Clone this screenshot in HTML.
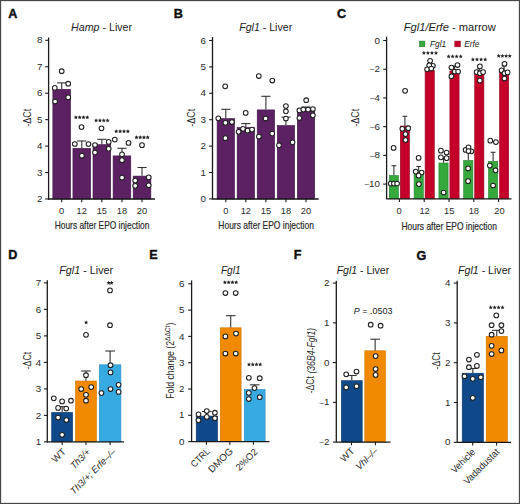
<!DOCTYPE html>
<html><head><meta charset="utf-8"><style>
html,body{margin:0;padding:0;background:#fff;}
body{width:520px;height:504px;overflow:hidden;}
svg{display:block;font-family:"Liberation Sans", sans-serif;}
</style></head><body>
<svg width="520" height="504" viewBox="0 0 520 504">
<rect x="0" y="0" width="520" height="504" fill="#fff"/>
<text x="8.15" y="18.15" font-size="12.6" text-anchor="start" fill="#111" font-weight="bold" stroke="#111" stroke-width="0.45">A</text>
<text x="71.1" y="30.8" font-size="10.5" fill="#222" textLength="61" lengthAdjust="spacingAndGlyphs"><tspan font-style="italic">Hamp</tspan> - Liver</text>
<text transform="translate(27,117.8) rotate(-90)" x="0" y="0" font-size="10.5" text-anchor="middle" dominant-baseline="central" fill="#2a2a2a" textLength="18" lengthAdjust="spacingAndGlyphs">-ΔCt</text>
<rect x="52.85" y="89.3" width="17.700000000000003" height="109.7" fill="#5c2163" stroke="#3e1446" stroke-width="0.6"/>
<rect x="72.92999999999999" y="148.3" width="17.70000000000001" height="50.7" fill="#5c2163" stroke="#3e1446" stroke-width="0.6"/>
<rect x="93.00999999999999" y="144.60000000000002" width="17.70000000000001" height="54.39999999999999" fill="#5c2163" stroke="#3e1446" stroke-width="0.6"/>
<rect x="113.08999999999999" y="155.9" width="17.70000000000001" height="43.10000000000001" fill="#5c2163" stroke="#3e1446" stroke-width="0.6"/>
<rect x="133.17" y="176.10000000000002" width="17.70000000000001" height="22.899999999999988" fill="#5c2163" stroke="#3e1446" stroke-width="0.6"/>
<line x1="61.7" y1="89" x2="61.7" y2="82.9" stroke="#333" stroke-width="1.1"/>
<line x1="57.1" y1="82.9" x2="66.3" y2="82.9" stroke="#333" stroke-width="1.1"/>
<line x1="81.78" y1="148" x2="81.78" y2="141" stroke="#333" stroke-width="1.1"/>
<line x1="77.18" y1="141" x2="86.38" y2="141" stroke="#333" stroke-width="1.1"/>
<line x1="101.86" y1="144.3" x2="101.86" y2="139.3" stroke="#333" stroke-width="1.1"/>
<line x1="97.26" y1="139.3" x2="106.46" y2="139.3" stroke="#333" stroke-width="1.1"/>
<line x1="121.94" y1="155.6" x2="121.94" y2="148.3" stroke="#333" stroke-width="1.1"/>
<line x1="117.34" y1="148.3" x2="126.53999999999999" y2="148.3" stroke="#333" stroke-width="1.1"/>
<line x1="142.01999999999998" y1="175.8" x2="142.01999999999998" y2="167.5" stroke="#333" stroke-width="1.1"/>
<line x1="137.42" y1="167.5" x2="146.61999999999998" y2="167.5" stroke="#333" stroke-width="1.1"/>
<circle cx="61.7" cy="71.2" r="2.35" fill="#fff" stroke="#222" stroke-width="1.05"/>
<circle cx="68.2" cy="83.7" r="2.35" fill="#fff" stroke="#222" stroke-width="1.05"/>
<circle cx="54.8" cy="87.9" r="2.35" fill="#fff" stroke="#222" stroke-width="1.05"/>
<circle cx="68.2" cy="97.4" r="2.35" fill="#fff" stroke="#222" stroke-width="1.05"/>
<circle cx="55.1" cy="101.5" r="2.35" fill="#fff" stroke="#222" stroke-width="1.05"/>
<circle cx="81.5" cy="127.1" r="2.35" fill="#fff" stroke="#222" stroke-width="1.05"/>
<circle cx="74.8" cy="144" r="2.35" fill="#fff" stroke="#222" stroke-width="1.05"/>
<circle cx="88.5" cy="144" r="2.35" fill="#fff" stroke="#222" stroke-width="1.05"/>
<circle cx="81.9" cy="155.7" r="2.35" fill="#fff" stroke="#222" stroke-width="1.05"/>
<circle cx="101.5" cy="128.3" r="2.35" fill="#fff" stroke="#222" stroke-width="1.05"/>
<circle cx="95" cy="145" r="2.35" fill="#fff" stroke="#222" stroke-width="1.05"/>
<circle cx="108.7" cy="141.9" r="2.35" fill="#fff" stroke="#222" stroke-width="1.05"/>
<circle cx="108.7" cy="148.8" r="2.35" fill="#fff" stroke="#222" stroke-width="1.05"/>
<circle cx="95" cy="152.6" r="2.35" fill="#fff" stroke="#222" stroke-width="1.05"/>
<circle cx="114.8" cy="139.6" r="2.35" fill="#fff" stroke="#222" stroke-width="1.05"/>
<circle cx="128.5" cy="142.9" r="2.35" fill="#fff" stroke="#222" stroke-width="1.05"/>
<circle cx="122" cy="154.4" r="2.35" fill="#fff" stroke="#222" stroke-width="1.05"/>
<circle cx="122" cy="160.2" r="2.35" fill="#fff" stroke="#222" stroke-width="1.05"/>
<circle cx="122" cy="177.7" r="2.35" fill="#fff" stroke="#222" stroke-width="1.05"/>
<circle cx="142" cy="145.2" r="2.35" fill="#fff" stroke="#222" stroke-width="1.05"/>
<circle cx="135.2" cy="180.6" r="2.35" fill="#fff" stroke="#222" stroke-width="1.05"/>
<circle cx="148.7" cy="177.4" r="2.35" fill="#fff" stroke="#222" stroke-width="1.05"/>
<circle cx="135.2" cy="185.8" r="2.35" fill="#fff" stroke="#222" stroke-width="1.05"/>
<circle cx="148.7" cy="185.3" r="2.35" fill="#fff" stroke="#222" stroke-width="1.05"/>
<polygon points="75.90,115.15 76.53,116.43 77.94,116.64 76.92,117.63 77.16,119.04 75.90,118.38 74.64,119.04 74.88,117.63 73.86,116.64 75.27,116.43" fill="#222"/>
<polygon points="79.70,115.15 80.33,116.43 81.74,116.64 80.72,117.63 80.96,119.04 79.70,118.38 78.44,119.04 78.68,117.63 77.66,116.64 79.07,116.43" fill="#222"/>
<polygon points="83.50,115.15 84.13,116.43 85.54,116.64 84.52,117.63 84.76,119.04 83.50,118.38 82.24,119.04 82.48,117.63 81.46,116.64 82.87,116.43" fill="#222"/>
<polygon points="87.30,115.15 87.93,116.43 89.34,116.64 88.32,117.63 88.56,119.04 87.30,118.38 86.04,119.04 86.28,117.63 85.26,116.64 86.67,116.43" fill="#222"/>
<polygon points="96.10,118.35 96.73,119.63 98.14,119.84 97.12,120.83 97.36,122.24 96.10,121.58 94.84,122.24 95.08,120.83 94.06,119.84 95.47,119.63" fill="#222"/>
<polygon points="99.93,118.35 100.57,119.63 101.98,119.84 100.96,120.83 101.20,122.24 99.93,121.58 98.67,122.24 98.91,120.83 97.89,119.84 99.30,119.63" fill="#222"/>
<polygon points="103.77,118.35 104.40,119.63 105.81,119.84 104.79,120.83 105.03,122.24 103.77,121.58 102.50,122.24 102.74,120.83 101.72,119.84 103.13,119.63" fill="#222"/>
<polygon points="107.60,118.35 108.23,119.63 109.64,119.84 108.62,120.83 108.86,122.24 107.60,121.58 106.34,122.24 106.58,120.83 105.56,119.84 106.97,119.63" fill="#222"/>
<polygon points="116.20,129.15 116.83,130.43 118.24,130.64 117.22,131.63 117.46,133.04 116.20,132.38 114.94,133.04 115.18,131.63 114.16,130.64 115.57,130.43" fill="#222"/>
<polygon points="120.10,129.15 120.73,130.43 122.14,130.64 121.12,131.63 121.36,133.04 120.10,132.38 118.84,133.04 119.08,131.63 118.06,130.64 119.47,130.43" fill="#222"/>
<polygon points="124.00,129.15 124.63,130.43 126.04,130.64 125.02,131.63 125.26,133.04 124.00,132.38 122.74,133.04 122.98,131.63 121.96,130.64 123.37,130.43" fill="#222"/>
<polygon points="127.90,129.15 128.53,130.43 129.94,130.64 128.92,131.63 129.16,133.04 127.90,132.38 126.64,133.04 126.88,131.63 125.86,130.64 127.27,130.43" fill="#222"/>
<polygon points="136.50,135.25 137.13,136.53 138.54,136.74 137.52,137.73 137.76,139.14 136.50,138.47 135.24,139.14 135.48,137.73 134.46,136.74 135.87,136.53" fill="#222"/>
<polygon points="140.23,135.25 140.87,136.53 142.28,136.74 141.26,137.73 141.50,139.14 140.23,138.47 138.97,139.14 139.21,137.73 138.19,136.74 139.60,136.53" fill="#222"/>
<polygon points="143.97,135.25 144.60,136.53 146.01,136.74 144.99,137.73 145.23,139.14 143.97,138.47 142.70,139.14 142.94,137.73 141.92,136.74 143.33,136.53" fill="#222"/>
<polygon points="147.70,135.25 148.33,136.53 149.74,136.74 148.72,137.73 148.96,139.14 147.70,138.47 146.44,139.14 146.68,137.73 145.66,136.74 147.07,136.53" fill="#222"/>
<line x1="48.6" y1="37.5" x2="48.6" y2="199.5" stroke="#1a1a1a" stroke-width="1.3"/>
<line x1="45.2" y1="199.0" x2="48.6" y2="199.0" stroke="#1a1a1a" stroke-width="1.1"/>
<text x="42.4" y="202.1" font-size="9.8" text-anchor="end" fill="#2a2a2a"  >2</text>
<line x1="45.2" y1="172.55" x2="48.6" y2="172.55" stroke="#1a1a1a" stroke-width="1.1"/>
<text x="42.4" y="175.65" font-size="9.8" text-anchor="end" fill="#2a2a2a"  >3</text>
<line x1="45.2" y1="146.1" x2="48.6" y2="146.1" stroke="#1a1a1a" stroke-width="1.1"/>
<text x="42.4" y="149.2" font-size="9.8" text-anchor="end" fill="#2a2a2a"  >4</text>
<line x1="45.2" y1="119.65" x2="48.6" y2="119.65" stroke="#1a1a1a" stroke-width="1.1"/>
<text x="42.4" y="122.75" font-size="9.8" text-anchor="end" fill="#2a2a2a"  >5</text>
<line x1="45.2" y1="93.2" x2="48.6" y2="93.2" stroke="#1a1a1a" stroke-width="1.1"/>
<text x="42.4" y="96.3" font-size="9.8" text-anchor="end" fill="#2a2a2a"  >6</text>
<line x1="45.2" y1="66.75" x2="48.6" y2="66.75" stroke="#1a1a1a" stroke-width="1.1"/>
<text x="42.4" y="69.85" font-size="9.8" text-anchor="end" fill="#2a2a2a"  >7</text>
<line x1="45.2" y1="40.30000000000001" x2="48.6" y2="40.30000000000001" stroke="#1a1a1a" stroke-width="1.1"/>
<text x="42.4" y="43.40000000000001" font-size="9.8" text-anchor="end" fill="#2a2a2a"  >8</text>
<line x1="48" y1="199" x2="155" y2="199" stroke="#1a1a1a" stroke-width="1.3"/>
<line x1="61.7" y1="199" x2="61.7" y2="202.2" stroke="#1a1a1a" stroke-width="1.1"/>
<line x1="81.78" y1="199" x2="81.78" y2="202.2" stroke="#1a1a1a" stroke-width="1.1"/>
<line x1="101.86" y1="199" x2="101.86" y2="202.2" stroke="#1a1a1a" stroke-width="1.1"/>
<line x1="121.94" y1="199" x2="121.94" y2="202.2" stroke="#1a1a1a" stroke-width="1.1"/>
<line x1="142.01999999999998" y1="199" x2="142.01999999999998" y2="202.2" stroke="#1a1a1a" stroke-width="1.1"/>
<text x="61.7" y="214" font-size="9.3" text-anchor="middle" fill="#2a2a2a"  >0</text>
<text x="81.78" y="214" font-size="9.3" text-anchor="middle" fill="#2a2a2a"  >12</text>
<text x="101.86" y="214" font-size="9.3" text-anchor="middle" fill="#2a2a2a"  >15</text>
<text x="121.94" y="214" font-size="9.3" text-anchor="middle" fill="#2a2a2a"  >18</text>
<text x="142.01999999999998" y="214" font-size="9.3" text-anchor="middle" fill="#2a2a2a"  >20</text>
<text x="54.7" y="228.8" font-size="11" text-anchor="start" fill="#2a2a2a"  textLength="94.7" lengthAdjust="spacingAndGlyphs" stroke="#2a2a2a" stroke-width="0.2">Hours after EPO injection</text>
<text x="173.75" y="18.349999999999998" font-size="12.6" text-anchor="start" fill="#111" font-weight="bold" stroke="#111" stroke-width="0.45">B</text>
<text x="239.2" y="30.8" font-size="10.5" fill="#222" textLength="53" lengthAdjust="spacingAndGlyphs"><tspan font-style="italic">Fgl1</tspan> - Liver</text>
<text transform="translate(190.8,117.8) rotate(-90)" x="0" y="0" font-size="10.5" text-anchor="middle" dominant-baseline="central" fill="#2a2a2a" textLength="18" lengthAdjust="spacingAndGlyphs">-ΔCt</text>
<rect x="217.10000000000002" y="118.6" width="17.4" height="80.4" fill="#5c2163" stroke="#3e1446" stroke-width="0.6"/>
<rect x="237.15000000000003" y="127.5" width="17.4" height="71.5" fill="#5c2163" stroke="#3e1446" stroke-width="0.6"/>
<rect x="257.20000000000005" y="109.89999999999999" width="17.4" height="89.10000000000001" fill="#5c2163" stroke="#3e1446" stroke-width="0.6"/>
<rect x="277.25000000000006" y="125.5" width="17.4" height="73.5" fill="#5c2163" stroke="#3e1446" stroke-width="0.6"/>
<rect x="297.3" y="108.5" width="17.4" height="90.5" fill="#5c2163" stroke="#3e1446" stroke-width="0.6"/>
<line x1="225.8" y1="118.3" x2="225.8" y2="109.3" stroke="#333" stroke-width="1.1"/>
<line x1="221.20000000000002" y1="109.3" x2="230.4" y2="109.3" stroke="#333" stroke-width="1.1"/>
<line x1="245.85000000000002" y1="127.2" x2="245.85000000000002" y2="123.6" stroke="#333" stroke-width="1.1"/>
<line x1="241.25000000000003" y1="123.6" x2="250.45000000000002" y2="123.6" stroke="#333" stroke-width="1.1"/>
<line x1="265.90000000000003" y1="109.6" x2="265.90000000000003" y2="96.3" stroke="#333" stroke-width="1.1"/>
<line x1="261.3" y1="96.3" x2="270.50000000000006" y2="96.3" stroke="#333" stroke-width="1.1"/>
<line x1="285.95000000000005" y1="125.2" x2="285.95000000000005" y2="117.2" stroke="#333" stroke-width="1.1"/>
<line x1="281.35" y1="117.2" x2="290.55000000000007" y2="117.2" stroke="#333" stroke-width="1.1"/>
<line x1="306.0" y1="108.2" x2="306.0" y2="107" stroke="#333" stroke-width="1.1"/>
<line x1="301.4" y1="107" x2="310.6" y2="107" stroke="#333" stroke-width="1.1"/>
<circle cx="225.2" cy="86.3" r="2.35" fill="#fff" stroke="#222" stroke-width="1.05"/>
<circle cx="218.3" cy="118.3" r="2.35" fill="#fff" stroke="#222" stroke-width="1.05"/>
<circle cx="225.4" cy="122.8" r="2.35" fill="#fff" stroke="#222" stroke-width="1.05"/>
<circle cx="231.9" cy="122" r="2.35" fill="#fff" stroke="#222" stroke-width="1.05"/>
<circle cx="225.4" cy="138.2" r="2.35" fill="#fff" stroke="#222" stroke-width="1.05"/>
<circle cx="245.7" cy="112.9" r="2.35" fill="#fff" stroke="#222" stroke-width="1.05"/>
<circle cx="238.6" cy="131.8" r="2.35" fill="#fff" stroke="#222" stroke-width="1.05"/>
<circle cx="243" cy="128.8" r="2.35" fill="#fff" stroke="#222" stroke-width="1.05"/>
<circle cx="247.6" cy="130.7" r="2.35" fill="#fff" stroke="#222" stroke-width="1.05"/>
<circle cx="252" cy="129.6" r="2.35" fill="#fff" stroke="#222" stroke-width="1.05"/>
<circle cx="258.8" cy="76" r="2.35" fill="#fff" stroke="#222" stroke-width="1.05"/>
<circle cx="272.3" cy="80.5" r="2.35" fill="#fff" stroke="#222" stroke-width="1.05"/>
<circle cx="265.6" cy="118.5" r="2.35" fill="#fff" stroke="#222" stroke-width="1.05"/>
<circle cx="258.9" cy="136.6" r="2.35" fill="#fff" stroke="#222" stroke-width="1.05"/>
<circle cx="272.2" cy="133.6" r="2.35" fill="#fff" stroke="#222" stroke-width="1.05"/>
<circle cx="285.9" cy="106.1" r="2.35" fill="#fff" stroke="#222" stroke-width="1.05"/>
<circle cx="285.9" cy="111.3" r="2.35" fill="#fff" stroke="#222" stroke-width="1.05"/>
<circle cx="285.9" cy="118.5" r="2.35" fill="#fff" stroke="#222" stroke-width="1.05"/>
<circle cx="279" cy="145.3" r="2.35" fill="#fff" stroke="#222" stroke-width="1.05"/>
<circle cx="292.5" cy="142.3" r="2.35" fill="#fff" stroke="#222" stroke-width="1.05"/>
<circle cx="306.2" cy="100.2" r="2.35" fill="#fff" stroke="#222" stroke-width="1.05"/>
<circle cx="299.4" cy="110.4" r="2.35" fill="#fff" stroke="#222" stroke-width="1.05"/>
<circle cx="303.3" cy="109.6" r="2.35" fill="#fff" stroke="#222" stroke-width="1.05"/>
<circle cx="308.1" cy="109.6" r="2.35" fill="#fff" stroke="#222" stroke-width="1.05"/>
<circle cx="312.9" cy="109" r="2.35" fill="#fff" stroke="#222" stroke-width="1.05"/>
<circle cx="299.4" cy="118" r="2.35" fill="#fff" stroke="#222" stroke-width="1.05"/>
<circle cx="312.9" cy="115.3" r="2.35" fill="#fff" stroke="#222" stroke-width="1.05"/>
<line x1="212.5" y1="37.1" x2="212.5" y2="199.5" stroke="#1a1a1a" stroke-width="1.3"/>
<line x1="209.1" y1="198.9" x2="212.5" y2="198.9" stroke="#1a1a1a" stroke-width="1.1"/>
<text x="205.9" y="202.0" font-size="9.8" text-anchor="end" fill="#2a2a2a"  >0</text>
<line x1="209.1" y1="172.5" x2="212.5" y2="172.5" stroke="#1a1a1a" stroke-width="1.1"/>
<text x="205.9" y="175.6" font-size="9.8" text-anchor="end" fill="#2a2a2a"  >1</text>
<line x1="209.1" y1="146.10000000000002" x2="212.5" y2="146.10000000000002" stroke="#1a1a1a" stroke-width="1.1"/>
<text x="205.9" y="149.20000000000002" font-size="9.8" text-anchor="end" fill="#2a2a2a"  >2</text>
<line x1="209.1" y1="119.70000000000002" x2="212.5" y2="119.70000000000002" stroke="#1a1a1a" stroke-width="1.1"/>
<text x="205.9" y="122.80000000000001" font-size="9.8" text-anchor="end" fill="#2a2a2a"  >3</text>
<line x1="209.1" y1="93.30000000000001" x2="212.5" y2="93.30000000000001" stroke="#1a1a1a" stroke-width="1.1"/>
<text x="205.9" y="96.4" font-size="9.8" text-anchor="end" fill="#2a2a2a"  >4</text>
<line x1="209.1" y1="66.9" x2="212.5" y2="66.9" stroke="#1a1a1a" stroke-width="1.1"/>
<text x="205.9" y="70.0" font-size="9.8" text-anchor="end" fill="#2a2a2a"  >5</text>
<line x1="209.1" y1="40.50000000000003" x2="212.5" y2="40.50000000000003" stroke="#1a1a1a" stroke-width="1.1"/>
<text x="205.9" y="43.60000000000003" font-size="9.8" text-anchor="end" fill="#2a2a2a"  >6</text>
<line x1="212.5" y1="199" x2="318.7" y2="199" stroke="#1a1a1a" stroke-width="1.3"/>
<line x1="225.8" y1="199" x2="225.8" y2="202.2" stroke="#1a1a1a" stroke-width="1.1"/>
<line x1="245.85000000000002" y1="199" x2="245.85000000000002" y2="202.2" stroke="#1a1a1a" stroke-width="1.1"/>
<line x1="265.90000000000003" y1="199" x2="265.90000000000003" y2="202.2" stroke="#1a1a1a" stroke-width="1.1"/>
<line x1="285.95000000000005" y1="199" x2="285.95000000000005" y2="202.2" stroke="#1a1a1a" stroke-width="1.1"/>
<line x1="306.0" y1="199" x2="306.0" y2="202.2" stroke="#1a1a1a" stroke-width="1.1"/>
<text x="225.8" y="213.6" font-size="9.3" text-anchor="middle" fill="#2a2a2a"  >0</text>
<text x="245.85000000000002" y="213.6" font-size="9.3" text-anchor="middle" fill="#2a2a2a"  >12</text>
<text x="265.90000000000003" y="213.6" font-size="9.3" text-anchor="middle" fill="#2a2a2a"  >15</text>
<text x="285.95000000000005" y="213.6" font-size="9.3" text-anchor="middle" fill="#2a2a2a"  >18</text>
<text x="306.0" y="213.6" font-size="9.3" text-anchor="middle" fill="#2a2a2a"  >20</text>
<text x="218.3" y="228.8" font-size="11" text-anchor="start" fill="#2a2a2a"  textLength="95.6" lengthAdjust="spacingAndGlyphs" stroke="#2a2a2a" stroke-width="0.2">Hours after EPO injection</text>
<text x="337.04999999999995" y="18.349999999999998" font-size="12.6" text-anchor="start" fill="#111" font-weight="bold" stroke="#111" stroke-width="0.45">C</text>
<text x="403.8" y="31.4" font-size="10.8" fill="#222" textLength="92" lengthAdjust="spacingAndGlyphs"><tspan font-style="italic">Fgl1/Erfe</tspan> - marrow</text>
<text transform="translate(355.3,117.8) rotate(-90)" x="0" y="0" font-size="10.5" text-anchor="middle" dominant-baseline="central" fill="#2a2a2a" textLength="18" lengthAdjust="spacingAndGlyphs">-ΔCt</text>
<rect x="389.3" y="175.5" width="9.199999999999955" height="23.300000000000022" fill="#36a93c" stroke="#2a7f2e" stroke-width="0.6"/>
<rect x="400.3" y="126.0" width="9.199999999999955" height="72.80000000000001" fill="#c4002a" stroke="#95081f" stroke-width="0.6"/>
<rect x="414.1" y="171.0" width="9.199999999999955" height="27.800000000000022" fill="#36a93c" stroke="#2a7f2e" stroke-width="0.6"/>
<rect x="425.1" y="70.6" width="9.199999999999955" height="128.2" fill="#c4002a" stroke="#95081f" stroke-width="0.6"/>
<rect x="438.90000000000003" y="163.0" width="9.199999999999955" height="35.800000000000026" fill="#36a93c" stroke="#2a7f2e" stroke-width="0.6"/>
<rect x="449.90000000000003" y="71.0" width="9.199999999999955" height="127.80000000000003" fill="#c4002a" stroke="#95081f" stroke-width="0.6"/>
<rect x="463.7" y="160.5" width="9.199999999999955" height="38.300000000000026" fill="#36a93c" stroke="#2a7f2e" stroke-width="0.6"/>
<rect x="474.7" y="72.1" width="9.199999999999955" height="126.70000000000002" fill="#c4002a" stroke="#95081f" stroke-width="0.6"/>
<rect x="488.5" y="161.3" width="9.199999999999955" height="37.500000000000014" fill="#36a93c" stroke="#2a7f2e" stroke-width="0.6"/>
<rect x="499.5" y="71.0" width="9.199999999999955" height="127.80000000000003" fill="#c4002a" stroke="#95081f" stroke-width="0.6"/>
<line x1="393.9" y1="175.2" x2="393.9" y2="165.7" stroke="#333" stroke-width="1.1"/>
<line x1="391.5" y1="165.7" x2="396.29999999999995" y2="165.7" stroke="#333" stroke-width="1.1"/>
<line x1="404.9" y1="125.7" x2="404.9" y2="116.3" stroke="#333" stroke-width="1.1"/>
<line x1="402.5" y1="116.3" x2="407.29999999999995" y2="116.3" stroke="#333" stroke-width="1.1"/>
<line x1="418.7" y1="170.7" x2="418.7" y2="166.5" stroke="#333" stroke-width="1.1"/>
<line x1="416.3" y1="166.5" x2="421.09999999999997" y2="166.5" stroke="#333" stroke-width="1.1"/>
<line x1="429.7" y1="70.3" x2="429.7" y2="66" stroke="#333" stroke-width="1.1"/>
<line x1="427.3" y1="66" x2="432.09999999999997" y2="66" stroke="#333" stroke-width="1.1"/>
<line x1="443.5" y1="162.7" x2="443.5" y2="158" stroke="#333" stroke-width="1.1"/>
<line x1="441.1" y1="158" x2="445.9" y2="158" stroke="#333" stroke-width="1.1"/>
<line x1="454.5" y1="70.7" x2="454.5" y2="66" stroke="#333" stroke-width="1.1"/>
<line x1="452.1" y1="66" x2="456.9" y2="66" stroke="#333" stroke-width="1.1"/>
<line x1="468.29999999999995" y1="160.2" x2="468.29999999999995" y2="150" stroke="#333" stroke-width="1.1"/>
<line x1="465.9" y1="150" x2="470.69999999999993" y2="150" stroke="#333" stroke-width="1.1"/>
<line x1="479.29999999999995" y1="71.8" x2="479.29999999999995" y2="68" stroke="#333" stroke-width="1.1"/>
<line x1="476.9" y1="68" x2="481.69999999999993" y2="68" stroke="#333" stroke-width="1.1"/>
<line x1="493.09999999999997" y1="161" x2="493.09999999999997" y2="152.3" stroke="#333" stroke-width="1.1"/>
<line x1="490.7" y1="152.3" x2="495.49999999999994" y2="152.3" stroke="#333" stroke-width="1.1"/>
<line x1="504.09999999999997" y1="70.7" x2="504.09999999999997" y2="66" stroke="#333" stroke-width="1.1"/>
<line x1="501.7" y1="66" x2="506.49999999999994" y2="66" stroke="#333" stroke-width="1.1"/>
<circle cx="393.6" cy="147.9" r="2.35" fill="#fff" stroke="#222" stroke-width="1.05"/>
<circle cx="390.7" cy="183.6" r="2.35" fill="#fff" stroke="#222" stroke-width="1.05"/>
<circle cx="393.9" cy="183.6" r="2.35" fill="#fff" stroke="#222" stroke-width="1.05"/>
<circle cx="397.1" cy="183.6" r="2.35" fill="#fff" stroke="#222" stroke-width="1.05"/>
<circle cx="405.1" cy="90.8" r="2.35" fill="#fff" stroke="#222" stroke-width="1.05"/>
<circle cx="402.3" cy="128.8" r="2.35" fill="#fff" stroke="#222" stroke-width="1.05"/>
<circle cx="408.2" cy="128.2" r="2.35" fill="#fff" stroke="#222" stroke-width="1.05"/>
<circle cx="405.5" cy="134.1" r="2.35" fill="#fff" stroke="#222" stroke-width="1.05"/>
<circle cx="405.5" cy="140" r="2.35" fill="#fff" stroke="#222" stroke-width="1.05"/>
<circle cx="418.6" cy="157.9" r="2.35" fill="#fff" stroke="#222" stroke-width="1.05"/>
<circle cx="415.7" cy="171.6" r="2.35" fill="#fff" stroke="#222" stroke-width="1.05"/>
<circle cx="421.6" cy="172.5" r="2.35" fill="#fff" stroke="#222" stroke-width="1.05"/>
<circle cx="418.6" cy="175.7" r="2.35" fill="#fff" stroke="#222" stroke-width="1.05"/>
<circle cx="418.9" cy="184.1" r="2.35" fill="#fff" stroke="#222" stroke-width="1.05"/>
<circle cx="430.1" cy="60.8" r="2.35" fill="#fff" stroke="#222" stroke-width="1.05"/>
<circle cx="432.9" cy="65.8" r="2.35" fill="#fff" stroke="#222" stroke-width="1.05"/>
<circle cx="429.2" cy="65.4" r="2.35" fill="#fff" stroke="#222" stroke-width="1.05"/>
<circle cx="427.1" cy="69.3" r="2.35" fill="#fff" stroke="#222" stroke-width="1.05"/>
<circle cx="431.3" cy="68.5" r="2.35" fill="#fff" stroke="#222" stroke-width="1.05"/>
<circle cx="440.9" cy="150.7" r="2.35" fill="#fff" stroke="#222" stroke-width="1.05"/>
<circle cx="446.6" cy="152.5" r="2.35" fill="#fff" stroke="#222" stroke-width="1.05"/>
<circle cx="440.9" cy="157.3" r="2.35" fill="#fff" stroke="#222" stroke-width="1.05"/>
<circle cx="446.6" cy="158.2" r="2.35" fill="#fff" stroke="#222" stroke-width="1.05"/>
<circle cx="443.6" cy="192.5" r="2.35" fill="#fff" stroke="#222" stroke-width="1.05"/>
<circle cx="457.5" cy="65" r="2.35" fill="#fff" stroke="#222" stroke-width="1.05"/>
<circle cx="451.4" cy="67.5" r="2.35" fill="#fff" stroke="#222" stroke-width="1.05"/>
<circle cx="454.7" cy="71.6" r="2.35" fill="#fff" stroke="#222" stroke-width="1.05"/>
<circle cx="458.1" cy="71.6" r="2.35" fill="#fff" stroke="#222" stroke-width="1.05"/>
<circle cx="451.4" cy="76.3" r="2.35" fill="#fff" stroke="#222" stroke-width="1.05"/>
<circle cx="465.6" cy="149.9" r="2.35" fill="#fff" stroke="#222" stroke-width="1.05"/>
<circle cx="468.5" cy="147.4" r="2.35" fill="#fff" stroke="#222" stroke-width="1.05"/>
<circle cx="471.3" cy="151.3" r="2.35" fill="#fff" stroke="#222" stroke-width="1.05"/>
<circle cx="468.5" cy="151.1" r="2.35" fill="#fff" stroke="#222" stroke-width="1.05"/>
<circle cx="468.1" cy="168.4" r="2.35" fill="#fff" stroke="#222" stroke-width="1.05"/>
<circle cx="468.1" cy="181.2" r="2.35" fill="#fff" stroke="#222" stroke-width="1.05"/>
<circle cx="479.9" cy="66.4" r="2.35" fill="#fff" stroke="#222" stroke-width="1.05"/>
<circle cx="476.6" cy="72.1" r="2.35" fill="#fff" stroke="#222" stroke-width="1.05"/>
<circle cx="479.9" cy="73.2" r="2.35" fill="#fff" stroke="#222" stroke-width="1.05"/>
<circle cx="483.1" cy="72.1" r="2.35" fill="#fff" stroke="#222" stroke-width="1.05"/>
<circle cx="479.9" cy="80.6" r="2.35" fill="#fff" stroke="#222" stroke-width="1.05"/>
<circle cx="490.3" cy="140.7" r="2.35" fill="#fff" stroke="#222" stroke-width="1.05"/>
<circle cx="495.9" cy="142.1" r="2.35" fill="#fff" stroke="#222" stroke-width="1.05"/>
<circle cx="489.8" cy="165.6" r="2.35" fill="#fff" stroke="#222" stroke-width="1.05"/>
<circle cx="495.5" cy="170.3" r="2.35" fill="#fff" stroke="#222" stroke-width="1.05"/>
<circle cx="493.1" cy="185.5" r="2.35" fill="#fff" stroke="#222" stroke-width="1.05"/>
<circle cx="504.5" cy="63.8" r="2.35" fill="#fff" stroke="#222" stroke-width="1.05"/>
<circle cx="501.6" cy="70.4" r="2.35" fill="#fff" stroke="#222" stroke-width="1.05"/>
<circle cx="504.5" cy="73.2" r="2.35" fill="#fff" stroke="#222" stroke-width="1.05"/>
<circle cx="507.6" cy="72.4" r="2.35" fill="#fff" stroke="#222" stroke-width="1.05"/>
<circle cx="504.5" cy="78.5" r="2.35" fill="#fff" stroke="#222" stroke-width="1.05"/>
<polygon points="423.90,50.85 424.53,52.13 425.94,52.34 424.92,53.33 425.16,54.74 423.90,54.08 422.64,54.74 422.88,53.33 421.86,52.34 423.27,52.13" fill="#222"/>
<polygon points="427.93,50.85 428.57,52.13 429.98,52.34 428.96,53.33 429.20,54.74 427.93,54.08 426.67,54.74 426.91,53.33 425.89,52.34 427.30,52.13" fill="#222"/>
<polygon points="431.97,50.85 432.60,52.13 434.01,52.34 432.99,53.33 433.23,54.74 431.97,54.08 430.70,54.74 430.94,53.33 429.92,52.34 431.33,52.13" fill="#222"/>
<polygon points="436.00,50.85 436.63,52.13 438.04,52.34 437.02,53.33 437.26,54.74 436.00,54.08 434.74,54.74 434.98,53.33 433.96,52.34 435.37,52.13" fill="#222"/>
<polygon points="448.60,54.35 449.23,55.63 450.64,55.84 449.62,56.83 449.86,58.24 448.60,57.58 447.34,58.24 447.58,56.83 446.56,55.84 447.97,55.63" fill="#222"/>
<polygon points="452.63,54.35 453.27,55.63 454.68,55.84 453.66,56.83 453.90,58.24 452.63,57.58 451.37,58.24 451.61,56.83 450.59,55.84 452.00,55.63" fill="#222"/>
<polygon points="456.67,54.35 457.30,55.63 458.71,55.84 457.69,56.83 457.93,58.24 456.67,57.58 455.40,58.24 455.64,56.83 454.62,55.84 456.03,55.63" fill="#222"/>
<polygon points="460.70,54.35 461.33,55.63 462.74,55.84 461.72,56.83 461.96,58.24 460.70,57.58 459.44,58.24 459.68,56.83 458.66,55.84 460.07,55.63" fill="#222"/>
<polygon points="472.90,57.35 473.53,58.63 474.94,58.84 473.92,59.83 474.16,61.24 472.90,60.58 471.64,61.24 471.88,59.83 470.86,58.84 472.27,58.63" fill="#222"/>
<polygon points="477.00,57.35 477.63,58.63 479.04,58.84 478.02,59.83 478.26,61.24 477.00,60.58 475.74,61.24 475.98,59.83 474.96,58.84 476.37,58.63" fill="#222"/>
<polygon points="481.10,57.35 481.73,58.63 483.14,58.84 482.12,59.83 482.36,61.24 481.10,60.58 479.84,61.24 480.08,59.83 479.06,58.84 480.47,58.63" fill="#222"/>
<polygon points="485.20,57.35 485.83,58.63 487.24,58.84 486.22,59.83 486.46,61.24 485.20,60.58 483.94,61.24 484.18,59.83 483.16,58.84 484.57,58.63" fill="#222"/>
<polygon points="498.70,53.85 499.33,55.13 500.74,55.34 499.72,56.33 499.96,57.74 498.70,57.08 497.44,57.74 497.68,56.33 496.66,55.34 498.07,55.13" fill="#222"/>
<polygon points="502.40,53.85 503.03,55.13 504.44,55.34 503.42,56.33 503.66,57.74 502.40,57.08 501.14,57.74 501.38,56.33 500.36,55.34 501.77,55.13" fill="#222"/>
<polygon points="506.10,53.85 506.73,55.13 508.14,55.34 507.12,56.33 507.36,57.74 506.10,57.08 504.84,57.74 505.08,56.33 504.06,55.34 505.47,55.13" fill="#222"/>
<polygon points="509.80,53.85 510.43,55.13 511.84,55.34 510.82,56.33 511.06,57.74 509.80,57.08 508.54,57.74 508.78,56.33 507.76,55.34 509.17,55.13" fill="#222"/>
<line x1="386.6" y1="36.8" x2="386.6" y2="199.3" stroke="#1a1a1a" stroke-width="1.3"/>
<line x1="383.20000000000005" y1="40.5" x2="386.6" y2="40.5" stroke="#1a1a1a" stroke-width="1.1"/>
<text x="379.9" y="43.6" font-size="9.8" text-anchor="end" fill="#2a2a2a"  >0</text>
<line x1="383.20000000000005" y1="69.22" x2="386.6" y2="69.22" stroke="#1a1a1a" stroke-width="1.1"/>
<text x="379.9" y="72.32" font-size="9.8" text-anchor="end" fill="#2a2a2a"  ><tspan font-size="8" dy="-0.9">–</tspan><tspan dy="0.9">2</tspan></text>
<line x1="383.20000000000005" y1="97.94" x2="386.6" y2="97.94" stroke="#1a1a1a" stroke-width="1.1"/>
<text x="379.9" y="101.03999999999999" font-size="9.8" text-anchor="end" fill="#2a2a2a"  ><tspan font-size="8" dy="-0.9">–</tspan><tspan dy="0.9">4</tspan></text>
<line x1="383.20000000000005" y1="126.66" x2="386.6" y2="126.66" stroke="#1a1a1a" stroke-width="1.1"/>
<text x="379.9" y="129.76" font-size="9.8" text-anchor="end" fill="#2a2a2a"  ><tspan font-size="8" dy="-0.9">–</tspan><tspan dy="0.9">6</tspan></text>
<line x1="383.20000000000005" y1="155.38" x2="386.6" y2="155.38" stroke="#1a1a1a" stroke-width="1.1"/>
<text x="379.9" y="158.48" font-size="9.8" text-anchor="end" fill="#2a2a2a"  ><tspan font-size="8" dy="-0.9">–</tspan><tspan dy="0.9">8</tspan></text>
<line x1="383.20000000000005" y1="184.1" x2="386.6" y2="184.1" stroke="#1a1a1a" stroke-width="1.1"/>
<text x="379.9" y="187.2" font-size="9.8" text-anchor="end" fill="#2a2a2a"  ><tspan font-size="8" dy="-0.9">–</tspan><tspan dy="0.9">10</tspan></text>
<line x1="386.6" y1="198.8" x2="511.5" y2="198.8" stroke="#1a1a1a" stroke-width="1.3"/>
<line x1="399.4" y1="198.8" x2="399.4" y2="202.0" stroke="#1a1a1a" stroke-width="1.1"/>
<line x1="424.2" y1="198.8" x2="424.2" y2="202.0" stroke="#1a1a1a" stroke-width="1.1"/>
<line x1="449.0" y1="198.8" x2="449.0" y2="202.0" stroke="#1a1a1a" stroke-width="1.1"/>
<line x1="473.79999999999995" y1="198.8" x2="473.79999999999995" y2="202.0" stroke="#1a1a1a" stroke-width="1.1"/>
<line x1="498.59999999999997" y1="198.8" x2="498.59999999999997" y2="202.0" stroke="#1a1a1a" stroke-width="1.1"/>
<text x="399" y="214" font-size="9.3" text-anchor="middle" fill="#2a2a2a"  >0</text>
<text x="424.6" y="214" font-size="9.3" text-anchor="middle" fill="#2a2a2a"  >12</text>
<text x="449.2" y="214" font-size="9.3" text-anchor="middle" fill="#2a2a2a"  >15</text>
<text x="473.8" y="214" font-size="9.3" text-anchor="middle" fill="#2a2a2a"  >18</text>
<text x="499.4" y="214" font-size="9.3" text-anchor="middle" fill="#2a2a2a"  >20</text>
<text x="401.5" y="229.5" font-size="11" text-anchor="start" fill="#2a2a2a"  textLength="95.4" lengthAdjust="spacingAndGlyphs" stroke="#2a2a2a" stroke-width="0.2">Hours after EPO injection</text>
<rect x="419.5" y="41.099999999999994" width="5.4" height="5.7" fill="#36a93c" stroke="#2a7f2e" stroke-width="0.6"/>
<text x="430" y="46.8" font-size="9.5" text-anchor="start" fill="#222" font-style="italic" textLength="16.2" lengthAdjust="spacingAndGlyphs" >Fgl1</text>
<rect x="454.8" y="41.099999999999994" width="5.500000000000023" height="5.7" fill="#c4002a" stroke="#95081f" stroke-width="0.6"/>
<text x="464.2" y="46.8" font-size="9.5" text-anchor="start" fill="#222" font-style="italic" textLength="15.2" lengthAdjust="spacingAndGlyphs" >Erfe</text>
<text x="8.35" y="259.45" font-size="12.6" text-anchor="start" fill="#111" font-weight="bold" stroke="#111" stroke-width="0.45">D</text>
<text x="59.3" y="273.7" font-size="10.3" fill="#222" textLength="53.8" lengthAdjust="spacingAndGlyphs"><tspan font-style="italic">Fgl1</tspan> - Liver</text>
<text transform="translate(27.2,360.6) rotate(-90)" x="0" y="0" font-size="10.5" text-anchor="middle" dominant-baseline="central" fill="#2a2a2a" textLength="17.5" lengthAdjust="spacingAndGlyphs">-ΔCt</text>
<rect x="51.699999999999996" y="412.40000000000003" width="20.900000000000006" height="29.499999999999954" fill="#10498a" stroke="#0b3566" stroke-width="0.6"/>
<rect x="75.5" y="381.0" width="20.9" height="60.89999999999999" fill="#f18a00" stroke="#c97300" stroke-width="0.6"/>
<rect x="99.3" y="364.8" width="21.6" height="77.09999999999998" fill="#38aae2" stroke="#2b8cc0" stroke-width="0.6"/>
<line x1="62.150000000000006" y1="412.1" x2="62.150000000000006" y2="406.7" stroke="#333" stroke-width="1.1"/>
<line x1="57.35000000000001" y1="406.7" x2="66.95" y2="406.7" stroke="#333" stroke-width="1.1"/>
<line x1="85.95" y1="380.7" x2="85.95" y2="371" stroke="#333" stroke-width="1.1"/>
<line x1="81.15" y1="371" x2="90.75" y2="371" stroke="#333" stroke-width="1.1"/>
<line x1="110.1" y1="364.5" x2="110.1" y2="351" stroke="#333" stroke-width="1.1"/>
<line x1="105.3" y1="351" x2="114.89999999999999" y2="351" stroke="#333" stroke-width="1.1"/>
<circle cx="53.8" cy="398.3" r="2.35" fill="#fff" stroke="#222" stroke-width="1.05"/>
<circle cx="62.1" cy="401.4" r="2.35" fill="#fff" stroke="#222" stroke-width="1.05"/>
<circle cx="71" cy="400.7" r="2.35" fill="#fff" stroke="#222" stroke-width="1.05"/>
<circle cx="58.1" cy="407.9" r="2.35" fill="#fff" stroke="#222" stroke-width="1.05"/>
<circle cx="66.2" cy="408.6" r="2.35" fill="#fff" stroke="#222" stroke-width="1.05"/>
<circle cx="58.1" cy="417.6" r="2.35" fill="#fff" stroke="#222" stroke-width="1.05"/>
<circle cx="66.4" cy="420" r="2.35" fill="#fff" stroke="#222" stroke-width="1.05"/>
<circle cx="62.1" cy="434.8" r="2.35" fill="#fff" stroke="#222" stroke-width="1.05"/>
<circle cx="86" cy="334.8" r="2.35" fill="#fff" stroke="#222" stroke-width="1.05"/>
<circle cx="86" cy="375.2" r="2.35" fill="#fff" stroke="#222" stroke-width="1.05"/>
<circle cx="81.2" cy="389" r="2.35" fill="#fff" stroke="#222" stroke-width="1.05"/>
<circle cx="91.2" cy="387.1" r="2.35" fill="#fff" stroke="#222" stroke-width="1.05"/>
<circle cx="86" cy="394.8" r="2.35" fill="#fff" stroke="#222" stroke-width="1.05"/>
<circle cx="86" cy="400.7" r="2.35" fill="#fff" stroke="#222" stroke-width="1.05"/>
<circle cx="110" cy="290.4" r="2.35" fill="#fff" stroke="#222" stroke-width="1.05"/>
<circle cx="110" cy="325.2" r="2.35" fill="#fff" stroke="#222" stroke-width="1.05"/>
<circle cx="110.5" cy="365.2" r="2.35" fill="#fff" stroke="#222" stroke-width="1.05"/>
<circle cx="110.5" cy="372.4" r="2.35" fill="#fff" stroke="#222" stroke-width="1.05"/>
<circle cx="101.4" cy="393.1" r="2.35" fill="#fff" stroke="#222" stroke-width="1.05"/>
<circle cx="110.5" cy="389" r="2.35" fill="#fff" stroke="#222" stroke-width="1.05"/>
<circle cx="118.6" cy="384.8" r="2.35" fill="#fff" stroke="#222" stroke-width="1.05"/>
<circle cx="118.6" cy="391.9" r="2.35" fill="#fff" stroke="#222" stroke-width="1.05"/>
<polygon points="86.10,320.35 86.73,321.63 88.14,321.84 87.12,322.83 87.36,324.24 86.10,323.57 84.84,324.24 85.08,322.83 84.06,321.84 85.47,321.63" fill="#222"/>
<polygon points="108.70,280.75 109.33,282.03 110.74,282.24 109.72,283.23 109.96,284.64 108.70,283.97 107.44,284.64 107.68,283.23 106.66,282.24 108.07,282.03" fill="#222"/>
<polygon points="111.50,280.75 112.13,282.03 113.54,282.24 112.52,283.23 112.76,284.64 111.50,283.97 110.24,284.64 110.48,283.23 109.46,282.24 110.87,282.03" fill="#222"/>
<line x1="47.3" y1="280.2" x2="47.3" y2="442.4" stroke="#1a1a1a" stroke-width="1.3"/>
<line x1="43.9" y1="441.9" x2="47.3" y2="441.9" stroke="#1a1a1a" stroke-width="1.1"/>
<text x="41.199999999999996" y="445.0" font-size="9.8" text-anchor="end" fill="#2a2a2a"  >1</text>
<line x1="43.9" y1="415.4" x2="47.3" y2="415.4" stroke="#1a1a1a" stroke-width="1.1"/>
<text x="41.199999999999996" y="418.5" font-size="9.8" text-anchor="end" fill="#2a2a2a"  >2</text>
<line x1="43.9" y1="388.9" x2="47.3" y2="388.9" stroke="#1a1a1a" stroke-width="1.1"/>
<text x="41.199999999999996" y="392.0" font-size="9.8" text-anchor="end" fill="#2a2a2a"  >3</text>
<line x1="43.9" y1="362.4" x2="47.3" y2="362.4" stroke="#1a1a1a" stroke-width="1.1"/>
<text x="41.199999999999996" y="365.5" font-size="9.8" text-anchor="end" fill="#2a2a2a"  >4</text>
<line x1="43.9" y1="335.9" x2="47.3" y2="335.9" stroke="#1a1a1a" stroke-width="1.1"/>
<text x="41.199999999999996" y="339.0" font-size="9.8" text-anchor="end" fill="#2a2a2a"  >5</text>
<line x1="43.9" y1="309.4" x2="47.3" y2="309.4" stroke="#1a1a1a" stroke-width="1.1"/>
<text x="41.199999999999996" y="312.5" font-size="9.8" text-anchor="end" fill="#2a2a2a"  >6</text>
<line x1="43.9" y1="282.9" x2="47.3" y2="282.9" stroke="#1a1a1a" stroke-width="1.1"/>
<text x="41.199999999999996" y="286.0" font-size="9.8" text-anchor="end" fill="#2a2a2a"  >7</text>
<line x1="47.3" y1="441.9" x2="124" y2="441.9" stroke="#1a1a1a" stroke-width="1.3"/>
<line x1="62.2" y1="441.9" x2="62.2" y2="445.09999999999997" stroke="#1a1a1a" stroke-width="1.1"/>
<line x1="86" y1="441.9" x2="86" y2="445.09999999999997" stroke="#1a1a1a" stroke-width="1.1"/>
<line x1="110.1" y1="441.9" x2="110.1" y2="445.09999999999997" stroke="#1a1a1a" stroke-width="1.1"/>
<text transform="translate(66.5,452.3) rotate(-45)" x="0" y="0" font-size="9.6" text-anchor="end" fill="#2a2a2a" textLength="15.5" lengthAdjust="spacingAndGlyphs">WT</text>
<text transform="translate(90.8,452.8) rotate(-45)" x="0" y="0" font-size="9.6" text-anchor="end" fill="#2a2a2a" textLength="23.5" lengthAdjust="spacingAndGlyphs" font-style="italic">Th3/+</text>
<text transform="translate(116.5,452.5) rotate(-45)" x="0" y="0" font-size="9.6" text-anchor="end" fill="#2a2a2a" font-style="italic" textLength="60" lengthAdjust="spacingAndGlyphs">Th3/+; Erfe–/–</text>
<text x="149.15" y="259.45" font-size="12.6" text-anchor="start" fill="#111" font-weight="bold" stroke="#111" stroke-width="0.45">E</text>
<text x="220.9" y="273.7" font-size="10.3" fill="#222" font-style="italic" textLength="19.6" lengthAdjust="spacingAndGlyphs">Fgl1</text>
<text transform="translate(170.2,360.7) rotate(-90)" x="0" y="0" font-size="10" text-anchor="middle" dominant-baseline="central" fill="#2a2a2a" textLength="76" lengthAdjust="spacingAndGlyphs">Fold change (2<tspan font-size="7.6" dy="-3.2">ΔΔCt</tspan><tspan dy="3.2">)</tspan></text>
<rect x="196.20000000000002" y="416.1" width="21.300000000000004" height="25.50000000000001" fill="#10498a" stroke="#0b3566" stroke-width="0.6"/>
<rect x="220.3" y="327.8" width="20.800000000000004" height="113.80000000000003" fill="#f18a00" stroke="#c97300" stroke-width="0.6"/>
<rect x="244.3" y="389.40000000000003" width="20.799999999999976" height="52.2" fill="#38aae2" stroke="#2b8cc0" stroke-width="0.6"/>
<line x1="206.85000000000002" y1="415.8" x2="206.85000000000002" y2="411.5" stroke="#333" stroke-width="1.1"/>
<line x1="202.05" y1="411.5" x2="211.65000000000003" y2="411.5" stroke="#333" stroke-width="1.1"/>
<line x1="230.7" y1="327.5" x2="230.7" y2="315.7" stroke="#333" stroke-width="1.1"/>
<line x1="225.89999999999998" y1="315.7" x2="235.5" y2="315.7" stroke="#333" stroke-width="1.1"/>
<line x1="254.7" y1="389.1" x2="254.7" y2="384.8" stroke="#333" stroke-width="1.1"/>
<line x1="249.89999999999998" y1="384.8" x2="259.5" y2="384.8" stroke="#333" stroke-width="1.1"/>
<circle cx="198.5" cy="414.3" r="2.35" fill="#fff" stroke="#222" stroke-width="1.05"/>
<circle cx="206.8" cy="411" r="2.35" fill="#fff" stroke="#222" stroke-width="1.05"/>
<circle cx="214.9" cy="412.7" r="2.35" fill="#fff" stroke="#222" stroke-width="1.05"/>
<circle cx="206.8" cy="416.9" r="2.35" fill="#fff" stroke="#222" stroke-width="1.05"/>
<circle cx="214.9" cy="418.2" r="2.35" fill="#fff" stroke="#222" stroke-width="1.05"/>
<circle cx="198.5" cy="420.2" r="2.35" fill="#fff" stroke="#222" stroke-width="1.05"/>
<circle cx="225.4" cy="293" r="2.35" fill="#fff" stroke="#222" stroke-width="1.05"/>
<circle cx="235.7" cy="293" r="2.35" fill="#fff" stroke="#222" stroke-width="1.05"/>
<circle cx="225.4" cy="336.4" r="2.35" fill="#fff" stroke="#222" stroke-width="1.05"/>
<circle cx="236" cy="333.6" r="2.35" fill="#fff" stroke="#222" stroke-width="1.05"/>
<circle cx="225.4" cy="353.5" r="2.35" fill="#fff" stroke="#222" stroke-width="1.05"/>
<circle cx="235.7" cy="353.5" r="2.35" fill="#fff" stroke="#222" stroke-width="1.05"/>
<circle cx="248.8" cy="377.8" r="2.35" fill="#fff" stroke="#222" stroke-width="1.05"/>
<circle cx="259.7" cy="378.2" r="2.35" fill="#fff" stroke="#222" stroke-width="1.05"/>
<circle cx="254.5" cy="388.1" r="2.35" fill="#fff" stroke="#222" stroke-width="1.05"/>
<circle cx="248.8" cy="392.9" r="2.35" fill="#fff" stroke="#222" stroke-width="1.05"/>
<circle cx="248.8" cy="399" r="2.35" fill="#fff" stroke="#222" stroke-width="1.05"/>
<circle cx="259.7" cy="397.2" r="2.35" fill="#fff" stroke="#222" stroke-width="1.05"/>
<polygon points="224.90,280.15 225.53,281.43 226.94,281.64 225.92,282.63 226.16,284.04 224.90,283.38 223.64,284.04 223.88,282.63 222.86,281.64 224.27,281.43" fill="#222"/>
<polygon points="228.67,280.15 229.30,281.43 230.71,281.64 229.69,282.63 229.93,284.04 228.67,283.38 227.40,284.04 227.64,282.63 226.62,281.64 228.03,281.43" fill="#222"/>
<polygon points="232.43,280.15 233.07,281.43 234.48,281.64 233.46,282.63 233.70,284.04 232.43,283.38 231.17,284.04 231.41,282.63 230.39,281.64 231.80,281.43" fill="#222"/>
<polygon points="236.20,280.15 236.83,281.43 238.24,281.64 237.22,282.63 237.46,284.04 236.20,283.38 234.94,284.04 235.18,282.63 234.16,281.64 235.57,281.43" fill="#222"/>
<polygon points="249.00,362.35 249.63,363.63 251.04,363.84 250.02,364.83 250.26,366.24 249.00,365.57 247.74,366.24 247.98,364.83 246.96,363.84 248.37,363.63" fill="#222"/>
<polygon points="252.73,362.35 253.37,363.63 254.78,363.84 253.76,364.83 254.00,366.24 252.73,365.57 251.47,366.24 251.71,364.83 250.69,363.84 252.10,363.63" fill="#222"/>
<polygon points="256.47,362.35 257.10,363.63 258.51,363.84 257.49,364.83 257.73,366.24 256.47,365.57 255.20,366.24 255.44,364.83 254.42,363.84 255.83,363.63" fill="#222"/>
<polygon points="260.20,362.35 260.83,363.63 262.24,363.84 261.22,364.83 261.46,366.24 260.20,365.57 258.94,366.24 259.18,364.83 258.16,363.84 259.57,363.63" fill="#222"/>
<line x1="191.6" y1="280.5" x2="191.6" y2="442.1" stroke="#1a1a1a" stroke-width="1.3"/>
<line x1="188.2" y1="441.6" x2="191.6" y2="441.6" stroke="#1a1a1a" stroke-width="1.1"/>
<text x="184.4" y="444.70000000000005" font-size="9.8" text-anchor="end" fill="#2a2a2a"  >0</text>
<line x1="188.2" y1="415.3" x2="191.6" y2="415.3" stroke="#1a1a1a" stroke-width="1.1"/>
<text x="184.4" y="418.40000000000003" font-size="9.8" text-anchor="end" fill="#2a2a2a"  >1</text>
<line x1="188.2" y1="389.0" x2="191.6" y2="389.0" stroke="#1a1a1a" stroke-width="1.1"/>
<text x="184.4" y="392.1" font-size="9.8" text-anchor="end" fill="#2a2a2a"  >2</text>
<line x1="188.2" y1="362.70000000000005" x2="191.6" y2="362.70000000000005" stroke="#1a1a1a" stroke-width="1.1"/>
<text x="184.4" y="365.80000000000007" font-size="9.8" text-anchor="end" fill="#2a2a2a"  >3</text>
<line x1="188.2" y1="336.40000000000003" x2="191.6" y2="336.40000000000003" stroke="#1a1a1a" stroke-width="1.1"/>
<text x="184.4" y="339.50000000000006" font-size="9.8" text-anchor="end" fill="#2a2a2a"  >4</text>
<line x1="188.2" y1="310.1" x2="191.6" y2="310.1" stroke="#1a1a1a" stroke-width="1.1"/>
<text x="184.4" y="313.20000000000005" font-size="9.8" text-anchor="end" fill="#2a2a2a"  >5</text>
<line x1="188.2" y1="283.8" x2="191.6" y2="283.8" stroke="#1a1a1a" stroke-width="1.1"/>
<text x="184.4" y="286.90000000000003" font-size="9.8" text-anchor="end" fill="#2a2a2a"  >6</text>
<line x1="191.8" y1="441.6" x2="269.4" y2="441.6" stroke="#1a1a1a" stroke-width="1.3"/>
<line x1="206.4" y1="441.6" x2="206.4" y2="444.8" stroke="#1a1a1a" stroke-width="1.1"/>
<line x1="229.8" y1="441.6" x2="229.8" y2="444.8" stroke="#1a1a1a" stroke-width="1.1"/>
<line x1="253.4" y1="441.6" x2="253.4" y2="444.8" stroke="#1a1a1a" stroke-width="1.1"/>
<text transform="translate(210.4,452) rotate(-45)" x="0" y="0" font-size="9.6" text-anchor="end" fill="#2a2a2a" textLength="22.5" lengthAdjust="spacingAndGlyphs">CTRL</text>
<text transform="translate(233.6,451.8) rotate(-45)" x="0" y="0" font-size="9.6" text-anchor="end" fill="#2a2a2a" textLength="30.5" lengthAdjust="spacingAndGlyphs">DMOG</text>
<text transform="translate(258.3,452.5) rotate(-45)" x="0" y="0" font-size="9.6" text-anchor="end" fill="#2a2a2a" textLength="26.5" lengthAdjust="spacingAndGlyphs">2%O2</text>
<text x="293.65" y="259.45" font-size="12.6" text-anchor="start" fill="#111" font-weight="bold" stroke="#111" stroke-width="0.45">F</text>
<text x="336.7" y="273.5" font-size="10.3" fill="#222" textLength="52.5" lengthAdjust="spacingAndGlyphs"><tspan font-style="italic">Fgl1</tspan> - Liver</text>
<text transform="translate(310.9,360.6) rotate(-90)" x="0" y="0" font-size="10.3" text-anchor="middle" dominant-baseline="central" fill="#2a2a2a" textLength="65.4" lengthAdjust="spacingAndGlyphs">-ΔCt <tspan font-style="italic">(36B4-Fgl1)</tspan></text>
<rect x="341.40000000000003" y="380.7" width="20.799999999999976" height="61.40000000000005" fill="#10498a" stroke="#0b3566" stroke-width="0.6"/>
<rect x="364.8" y="350.8" width="20.70000000000001" height="91.30000000000003" fill="#f18a00" stroke="#c97300" stroke-width="0.6"/>
<line x1="351.8" y1="380.4" x2="351.8" y2="375.5" stroke="#333" stroke-width="1.1"/>
<line x1="347.0" y1="375.5" x2="356.6" y2="375.5" stroke="#333" stroke-width="1.1"/>
<line x1="375.15" y1="350.5" x2="375.15" y2="339.2" stroke="#333" stroke-width="1.1"/>
<line x1="370.34999999999997" y1="339.2" x2="379.95" y2="339.2" stroke="#333" stroke-width="1.1"/>
<circle cx="346.2" cy="374.3" r="2.35" fill="#fff" stroke="#222" stroke-width="1.05"/>
<circle cx="356.5" cy="371.5" r="2.35" fill="#fff" stroke="#222" stroke-width="1.05"/>
<circle cx="346.2" cy="387.4" r="2.35" fill="#fff" stroke="#222" stroke-width="1.05"/>
<circle cx="356.5" cy="386.2" r="2.35" fill="#fff" stroke="#222" stroke-width="1.05"/>
<circle cx="370.7" cy="324.7" r="2.35" fill="#fff" stroke="#222" stroke-width="1.05"/>
<circle cx="380.6" cy="325.7" r="2.35" fill="#fff" stroke="#222" stroke-width="1.05"/>
<circle cx="375.6" cy="356.1" r="2.35" fill="#fff" stroke="#222" stroke-width="1.05"/>
<circle cx="375.6" cy="369" r="2.35" fill="#fff" stroke="#222" stroke-width="1.05"/>
<circle cx="375.6" cy="374.9" r="2.35" fill="#fff" stroke="#222" stroke-width="1.05"/>
<text x="353.8" y="314.2" font-size="8.6" fill="#222" textLength="38.7" lengthAdjust="spacingAndGlyphs"><tspan font-style="italic">P</tspan> = .0503</text>
<line x1="336.3" y1="280.7" x2="336.3" y2="442.6" stroke="#1a1a1a" stroke-width="1.3"/>
<line x1="332.90000000000003" y1="283.1" x2="336.3" y2="283.1" stroke="#1a1a1a" stroke-width="1.1"/>
<text x="329.4" y="286.20000000000005" font-size="9.8" text-anchor="end" fill="#2a2a2a"  >2</text>
<line x1="332.90000000000003" y1="322.85" x2="336.3" y2="322.85" stroke="#1a1a1a" stroke-width="1.1"/>
<text x="329.4" y="325.95000000000005" font-size="9.8" text-anchor="end" fill="#2a2a2a"  >1</text>
<line x1="332.90000000000003" y1="362.6" x2="336.3" y2="362.6" stroke="#1a1a1a" stroke-width="1.1"/>
<text x="329.4" y="365.70000000000005" font-size="9.8" text-anchor="end" fill="#2a2a2a"  >0</text>
<line x1="332.90000000000003" y1="402.35" x2="336.3" y2="402.35" stroke="#1a1a1a" stroke-width="1.1"/>
<text x="329.4" y="405.45000000000005" font-size="9.8" text-anchor="end" fill="#2a2a2a"  ><tspan font-size="8" dy="-0.9">–</tspan><tspan dy="0.9">1</tspan></text>
<line x1="332.90000000000003" y1="442.1" x2="336.3" y2="442.1" stroke="#1a1a1a" stroke-width="1.1"/>
<text x="329.4" y="445.20000000000005" font-size="9.8" text-anchor="end" fill="#2a2a2a"  ><tspan font-size="8" dy="-0.9">–</tspan><tspan dy="0.9">2</tspan></text>
<line x1="336.3" y1="442.1" x2="390.5" y2="442.1" stroke="#1a1a1a" stroke-width="1.3"/>
<line x1="351.5" y1="442.1" x2="351.5" y2="445.3" stroke="#1a1a1a" stroke-width="1.1"/>
<line x1="375.4" y1="442.1" x2="375.4" y2="445.3" stroke="#1a1a1a" stroke-width="1.1"/>
<text transform="translate(355,451.5) rotate(-45)" x="0" y="0" font-size="9.6" text-anchor="end" fill="#2a2a2a" textLength="15.5" lengthAdjust="spacingAndGlyphs">WT</text>
<text transform="translate(378.5,451.5) rotate(-45)" x="0" y="0" font-size="9.6" text-anchor="end" fill="#2a2a2a" textLength="27" lengthAdjust="spacingAndGlyphs" font-style="italic">Vhl–/–</text>
<text x="416.45" y="259.84999999999997" font-size="12.6" text-anchor="start" fill="#111" font-weight="bold" stroke="#111" stroke-width="0.45">G</text>
<text x="458.1" y="273.5" font-size="10.3" fill="#222" textLength="53" lengthAdjust="spacingAndGlyphs"><tspan font-style="italic">Fgl1</tspan> - Liver</text>
<text transform="translate(435.9,360.8) rotate(-90)" x="0" y="0" font-size="10.5" text-anchor="middle" dominant-baseline="central" fill="#2a2a2a" textLength="17" lengthAdjust="spacingAndGlyphs">-ΔCt</text>
<rect x="462.2" y="373.2" width="21.300000000000033" height="69.10000000000004" fill="#10498a" stroke="#0b3566" stroke-width="0.6"/>
<rect x="486.2" y="336.3" width="21.100000000000044" height="106.00000000000001" fill="#f18a00" stroke="#c97300" stroke-width="0.6"/>
<line x1="472.85" y1="372.9" x2="472.85" y2="368.5" stroke="#333" stroke-width="1.1"/>
<line x1="468.05" y1="368.5" x2="477.65000000000003" y2="368.5" stroke="#333" stroke-width="1.1"/>
<line x1="496.75" y1="336" x2="496.75" y2="330.3" stroke="#333" stroke-width="1.1"/>
<line x1="491.95" y1="330.3" x2="501.55" y2="330.3" stroke="#333" stroke-width="1.1"/>
<circle cx="468.9" cy="359.5" r="2.35" fill="#fff" stroke="#222" stroke-width="1.05"/>
<circle cx="476.9" cy="354.8" r="2.35" fill="#fff" stroke="#222" stroke-width="1.05"/>
<circle cx="468.9" cy="367.2" r="2.35" fill="#fff" stroke="#222" stroke-width="1.05"/>
<circle cx="476.9" cy="365.9" r="2.35" fill="#fff" stroke="#222" stroke-width="1.05"/>
<circle cx="464.5" cy="376.2" r="2.35" fill="#fff" stroke="#222" stroke-width="1.05"/>
<circle cx="472.8" cy="378.8" r="2.35" fill="#fff" stroke="#222" stroke-width="1.05"/>
<circle cx="480.8" cy="377.3" r="2.35" fill="#fff" stroke="#222" stroke-width="1.05"/>
<circle cx="472.8" cy="397.9" r="2.35" fill="#fff" stroke="#222" stroke-width="1.05"/>
<circle cx="496.3" cy="315.4" r="2.35" fill="#fff" stroke="#222" stroke-width="1.05"/>
<circle cx="491.6" cy="325.2" r="2.35" fill="#fff" stroke="#222" stroke-width="1.05"/>
<circle cx="501.4" cy="325.2" r="2.35" fill="#fff" stroke="#222" stroke-width="1.05"/>
<circle cx="491.6" cy="334.7" r="2.35" fill="#fff" stroke="#222" stroke-width="1.05"/>
<circle cx="501.4" cy="331.1" r="2.35" fill="#fff" stroke="#222" stroke-width="1.05"/>
<circle cx="491.6" cy="345.8" r="2.35" fill="#fff" stroke="#222" stroke-width="1.05"/>
<circle cx="491.6" cy="354" r="2.35" fill="#fff" stroke="#222" stroke-width="1.05"/>
<circle cx="501.4" cy="350.4" r="2.35" fill="#fff" stroke="#222" stroke-width="1.05"/>
<polygon points="490.70,305.35 491.33,306.63 492.74,306.84 491.72,307.83 491.96,309.24 490.70,308.57 489.44,309.24 489.68,307.83 488.66,306.84 490.07,306.63" fill="#222"/>
<polygon points="494.63,305.35 495.27,306.63 496.68,306.84 495.66,307.83 495.90,309.24 494.63,308.57 493.37,309.24 493.61,307.83 492.59,306.84 494.00,306.63" fill="#222"/>
<polygon points="498.57,305.35 499.20,306.63 500.61,306.84 499.59,307.83 499.83,309.24 498.57,308.57 497.30,309.24 497.54,307.83 496.52,306.84 497.93,306.63" fill="#222"/>
<polygon points="502.50,305.35 503.13,306.63 504.54,306.84 503.52,307.83 503.76,309.24 502.50,308.57 501.24,309.24 501.48,307.83 500.46,306.84 501.87,306.63" fill="#222"/>
<line x1="457.2" y1="280.7" x2="457.2" y2="442.8" stroke="#1a1a1a" stroke-width="1.3"/>
<line x1="453.8" y1="442.3" x2="457.2" y2="442.3" stroke="#1a1a1a" stroke-width="1.1"/>
<text x="450.4" y="445.40000000000003" font-size="9.8" text-anchor="end" fill="#2a2a2a"  >0</text>
<line x1="453.8" y1="402.5" x2="457.2" y2="402.5" stroke="#1a1a1a" stroke-width="1.1"/>
<text x="450.4" y="405.6" font-size="9.8" text-anchor="end" fill="#2a2a2a"  >1</text>
<line x1="453.8" y1="362.70000000000005" x2="457.2" y2="362.70000000000005" stroke="#1a1a1a" stroke-width="1.1"/>
<text x="450.4" y="365.80000000000007" font-size="9.8" text-anchor="end" fill="#2a2a2a"  >2</text>
<line x1="453.8" y1="322.90000000000003" x2="457.2" y2="322.90000000000003" stroke="#1a1a1a" stroke-width="1.1"/>
<text x="450.4" y="326.00000000000006" font-size="9.8" text-anchor="end" fill="#2a2a2a"  >3</text>
<line x1="453.8" y1="283.1" x2="457.2" y2="283.1" stroke="#1a1a1a" stroke-width="1.1"/>
<text x="450.4" y="286.20000000000005" font-size="9.8" text-anchor="end" fill="#2a2a2a"  >4</text>
<line x1="457.2" y1="442.3" x2="511" y2="442.3" stroke="#1a1a1a" stroke-width="1.3"/>
<line x1="472.7" y1="442.3" x2="472.7" y2="445.5" stroke="#1a1a1a" stroke-width="1.1"/>
<line x1="496.6" y1="442.3" x2="496.6" y2="445.5" stroke="#1a1a1a" stroke-width="1.1"/>
<text transform="translate(476,452.5) rotate(-45)" x="0" y="0" font-size="9.6" text-anchor="end" fill="#2a2a2a" textLength="30" lengthAdjust="spacingAndGlyphs">Vehicle</text>
<text transform="translate(500,452.5) rotate(-45)" x="0" y="0" font-size="9.6" text-anchor="end" fill="#2a2a2a" textLength="46" lengthAdjust="spacingAndGlyphs">Vadadustat</text>
<rect x="1.5" y="1.5" width="517" height="501" fill="none" stroke="#e2e2e2" stroke-width="1"/>
<rect x="0.5" y="0.5" width="519" height="503" fill="none" stroke="#474747" stroke-width="1"/>
</svg>
</body></html>
